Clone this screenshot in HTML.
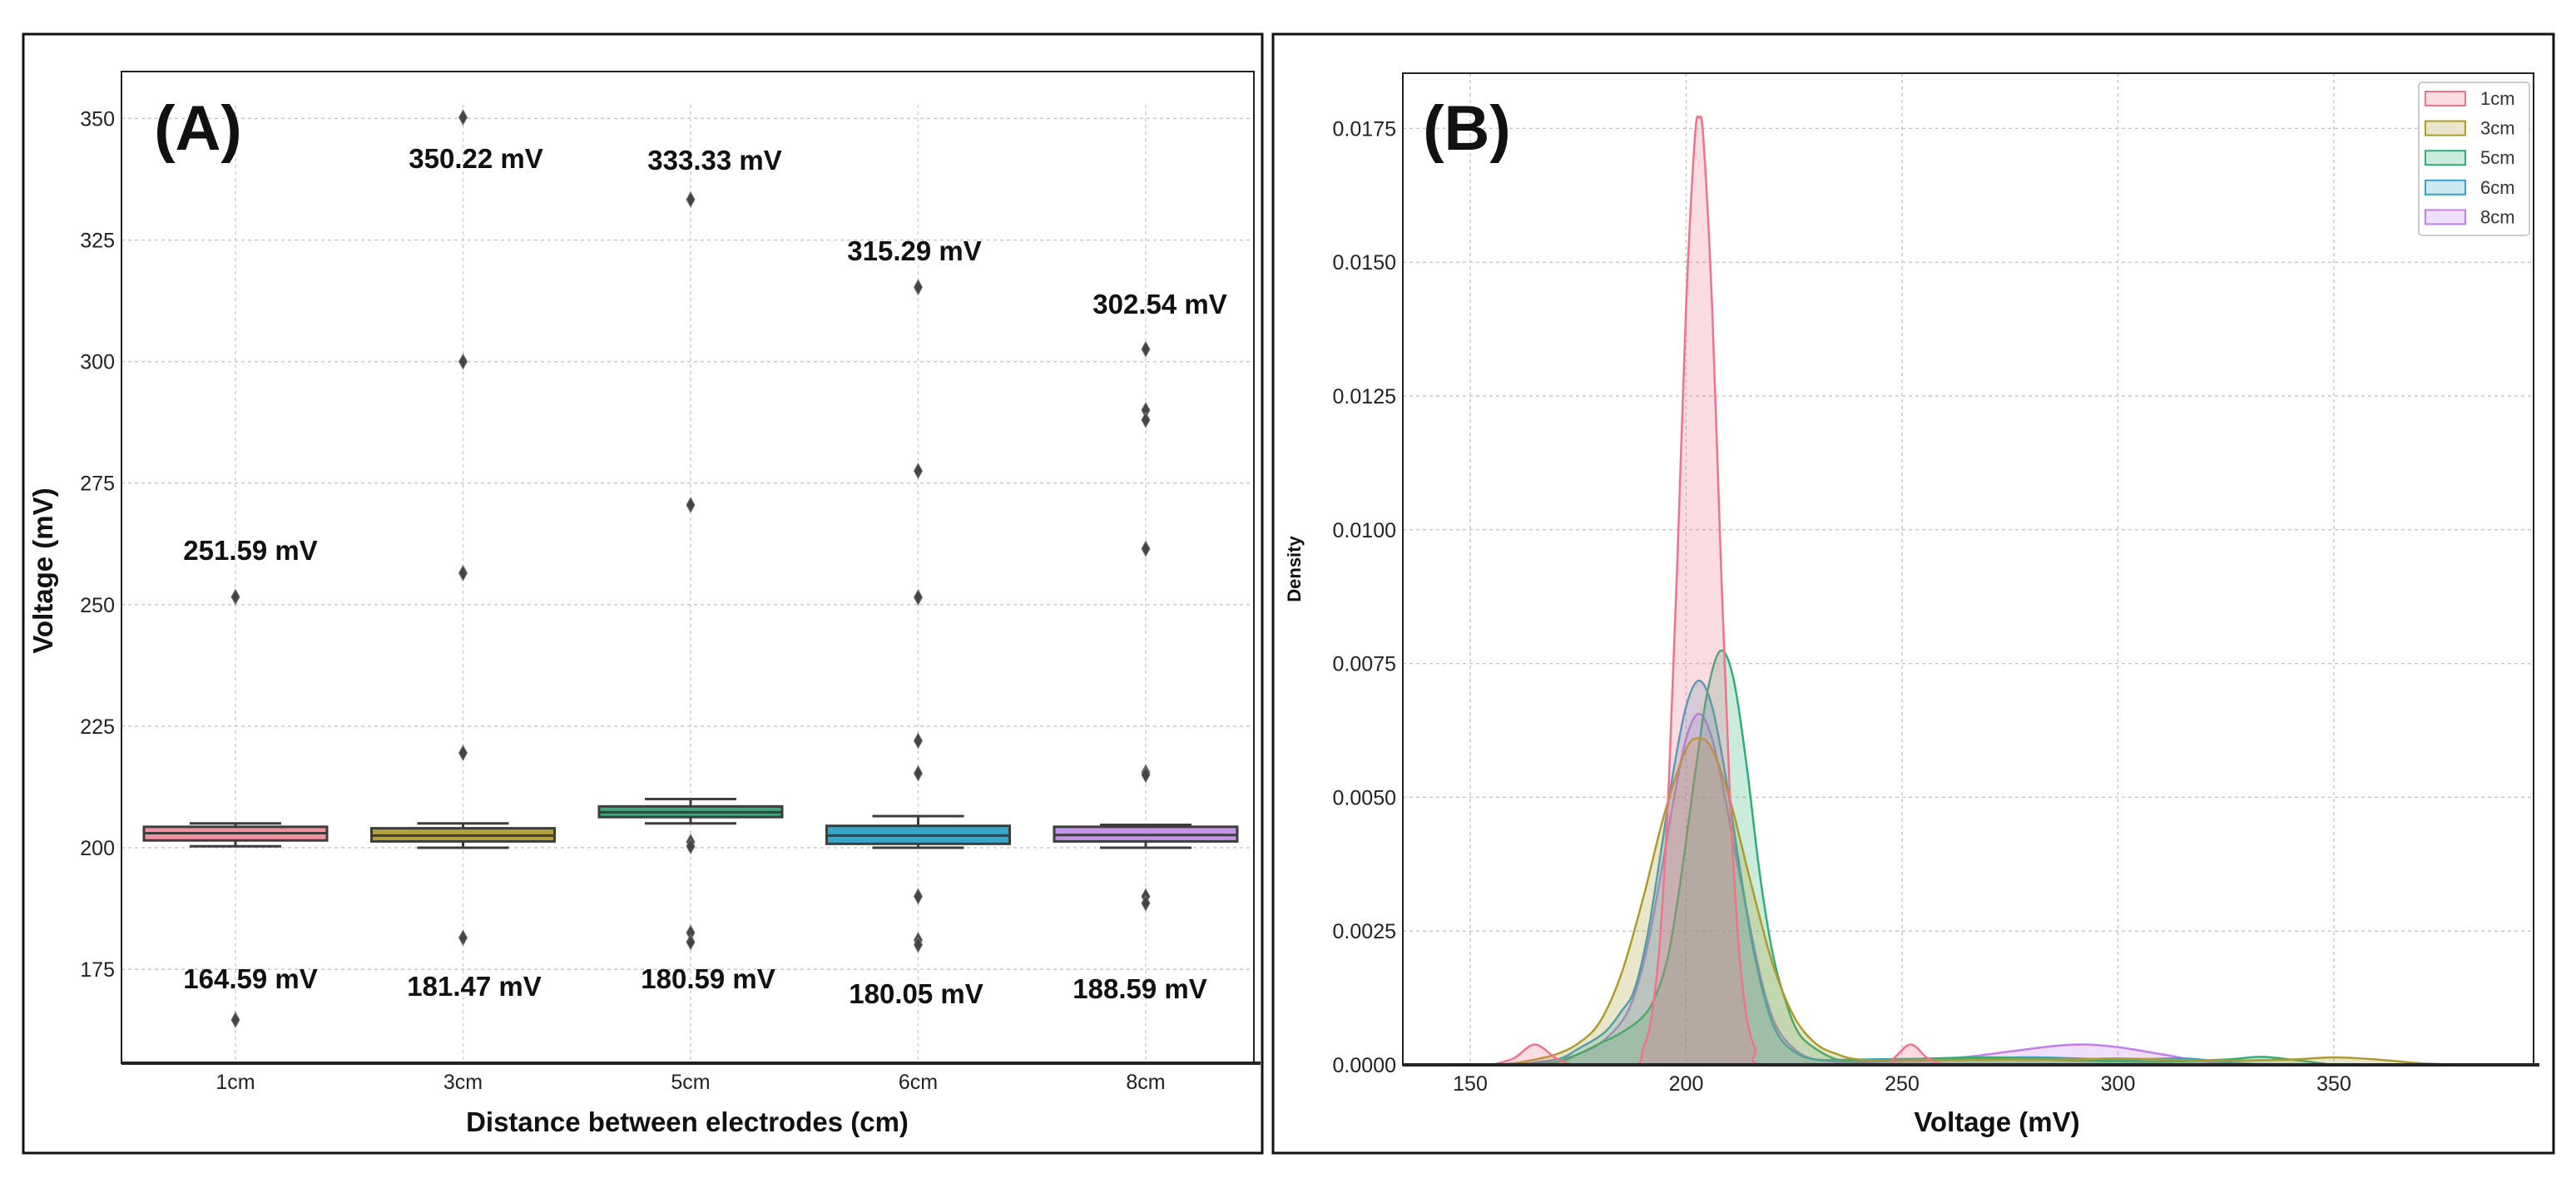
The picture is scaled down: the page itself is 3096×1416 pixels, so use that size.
<!DOCTYPE html>
<html><head><meta charset="utf-8"><style>
html,body{margin:0;padding:0;background:#fff;}
svg{display:block;font-family:"Liberation Sans",Arial,sans-serif;}
</style></head><body>
<svg id="fig" width="3096" height="1416" viewBox="0 0 3096 1416" xmlns="http://www.w3.org/2000/svg">
<rect x="0" y="0" width="3096" height="1416" fill="#fff"/>
<rect x="28" y="41" width="1489" height="1345" fill="none" stroke="#111" stroke-width="3"/>
<rect x="1530" y="41" width="1539" height="1345" fill="none" stroke="#111" stroke-width="3"/>
<g id="pa"></g>
<g id="pb"></g>
</svg>
<script>
// ---------- Panel A data ----------
const catsA = ["1cm","3cm","5cm","6cm","8cm"];
const q1A = [201.5, 201.3, 206.3, 200.8, 201.3];
const medA = [203.0, 202.5, 207.3, 202.5, 202.6];
const q3A = [204.3, 204.0, 208.5, 204.5, 204.3];
const wloA = [200.3, 200.0, 205.0, 200.0, 200.0];
const whiA = [205.0, 205.0, 210.0, 206.5, 204.7];
const outA = [
  [251.59, 164.59],
  [350.22, 300.0, 256.5, 219.5, 181.47],
  [333.33, 270.5, 201.2, 200.3, 182.5, 180.59],
  [315.29, 277.5, 251.5, 222.0, 215.3, 190.0, 181.0, 180.05],
  [302.54, 290.0, 288.0, 261.5, 215.5, 215.0, 190.0, 188.59]
];
const annHiA = ["251.59 mV","350.22 mV","333.33 mV","315.29 mV","302.54 mV"];
const annLoA = ["164.59 mV","181.47 mV","180.59 mV","180.05 mV","188.59 mV"];
const yTicksA = [175, 200, 225, 250, 275, 300, 325, 350];
const colorsA = ["#f3929f","#b3a23c","#3cab7b","#3aa6c9","#c493ec"];

// ---------- Panel B data ----------
const seriesB = ["1cm","3cm","5cm","6cm","8cm"];
const colorsB = ["#f0728b","#ad9b2e","#2fae76","#35a3c7","#c07ef0"];
const kdeX1 = [155,160,165,170,175,188,190,192,194,196,198,200,202,203,204,206,208,210,212,214,216,218,245,248,252,256,260];
const kdeY1 = [0,0.00012,0.00038,0.00012,0,0,0.0003,0.0009,0.0024,0.0053,0.0095,0.0142,0.0173,0.0177,0.0173,0.0142,0.0095,0.0053,0.0024,0.0009,0.0003,0,0,0.00012,0.00038,0.00012,0];
const kdeX3 = [155,160,165,170,175,180,185,190,195,200,203,206,210,215,220,225,230,235,240,250,270,290,300,320,340,350,360,370,380];
const kdeY3 = [0,0.00003,0.0001,0.0002,0.0004,0.0008,0.0017,0.0031,0.0047,0.0059,0.0061,0.0059,0.0050,0.0034,0.0019,0.0009,0.0004,0.0002,0.0001,0.00008,0.0001,0.0001,0.00012,0.00008,0.0001,0.00014,0.0001,0.00003,0];
const kdeX5 = [160,170,175,180,185,190,193,196,199,202,205,208,211,214,217,220,223,226,230,235,240,250,270,290,310,325,333,340,350];
const kdeY5 = [0,0.00005,0.0002,0.0004,0.0006,0.0009,0.0013,0.0021,0.0036,0.0054,0.0070,0.00774,0.0072,0.0056,0.0036,0.0021,0.0012,0.0006,0.0003,0.0001,0.00008,0.0001,0.00014,0.00008,0.00006,0.0001,0.00015,0.0001,0];
const kdeX6 = [160,170,175,181,185,188,191,194,197,200,203,206,209,212,215,218,221,225,230,240,260,280,300,315,325,335];
const kdeY6 = [0,0.0001,0.0003,0.0006,0.0010,0.0014,0.0024,0.0039,0.00546,0.0067,0.00718,0.0067,0.00546,0.0039,0.0024,0.0013,0.0006,0.00025,0.0001,0.0001,0.00012,0.00014,0.0001,0.00012,0.00005,0];
const kdeX8 = [160,170,175,180,185,188,191,194,197,200,203,206,209,212,215,218,221,225,230,240,255,265,275,285,292,300,310,320,330];
const kdeY8 = [0,0.0001,0.0002,0.0004,0.0008,0.0013,0.0022,0.0035,0.0049,0.0061,0.00656,0.0061,0.0050,0.0037,0.0025,0.0014,0.0007,0.0003,0.0001,0.00005,0.0001,0.00015,0.00025,0.00035,0.00038,0.00033,0.0002,0.00006,0];
const xTicksB = [150, 200, 250, 300, 350];
const yTicksB = [0, 0.0025, 0.005, 0.0075, 0.01, 0.0125, 0.015, 0.0175];
const yTickLabB = ["0.0000","0.0025","0.0050","0.0075","0.0100","0.0125","0.0150","0.0175"];

const NS = "http://www.w3.org/2000/svg";
function mk(parent, tag, attrs, text){
  const e = document.createElementNS(NS, tag);
  for (const k in attrs) e.setAttribute(k, attrs[k]);
  if (text !== undefined) e.textContent = text;
  parent.appendChild(e);
  return e;
}

// ---------- Panel A ----------
const pa = document.getElementById("pa");
const AL=146, AR=1507, AT=86, AB=1278;
const yA = v => 1019 - (v-200)*5.844;
const xA = i => 283 + i*273.5;
const BW = 220;

yTicksA.forEach(t=>{
  const g = mk(pa,"line",{x1:AL,x2:AR,y1:yA(t),y2:yA(t),stroke:"#c8c8c8","stroke-width":1.5,"stroke-dasharray":"4 4"});
  
  
  const tl = mk(pa,"text",{x:AL-8,y:yA(t)+9,"text-anchor":"end","font-size":25,fill:"#222"},String(t));
  
  
});
catsA.forEach((c,i)=>{
  const g = mk(pa,"line",{x1:xA(i),x2:xA(i),y1:AT+40,y2:AB,stroke:"#d0d0d0","stroke-width":1.5,"stroke-dasharray":"4 4"});
  
  
  const tl = mk(pa,"text",{x:xA(i),y:1309,"text-anchor":"middle","font-size":25,fill:"#222"},c);
  
  
});
mk(pa,"rect",{x:AL,y:AT,width:AR-AL,height:AB-AT,fill:"none",stroke:"#222","stroke-width":2});
mk(pa,"line",{x1:AL,x2:1515,y1:AB,y2:AB,stroke:"#222","stroke-width":4});

catsA.forEach((c,i)=>{
  const x = xA(i);
  const g = mk(pa,"g",{});
  
  
  mk(g,"line",{x1:x,x2:x,y1:yA(whiA[i]),y2:yA(q3A[i]),stroke:"#3d3d3d","stroke-width":3});
  mk(g,"line",{x1:x,x2:x,y1:yA(q1A[i]),y2:yA(wloA[i]),stroke:"#3d3d3d","stroke-width":3});
  mk(g,"line",{x1:x-BW/4,x2:x+BW/4,y1:yA(whiA[i]),y2:yA(whiA[i]),stroke:"#3d3d3d","stroke-width":3});
  mk(g,"line",{x1:x-BW/4,x2:x+BW/4,y1:yA(wloA[i]),y2:yA(wloA[i]),stroke:"#3d3d3d","stroke-width":3});
  mk(g,"rect",{x:x-BW/2,y:yA(q3A[i]),width:BW,height:yA(q1A[i])-yA(q3A[i]),fill:colorsA[i],stroke:"#3d3d3d","stroke-width":3});
  mk(g,"line",{x1:x-BW/2,x2:x+BW/2,y1:yA(medA[i]),y2:yA(medA[i]),stroke:"#3d3d3d","stroke-width":3});
  outA[i].forEach(v=>{
    const y = yA(v);
    const d = mk(pa,"path",{d:`M${x} ${y-9} L${x+5} ${y} L${x} ${y+9} L${x-5} ${y} Z`,fill:"#444",stroke:"#777","stroke-width":1});
    
    
  });
});
const annHiPos = [[301,673],[572,202],[859,204],[1099,313],[1394,377]];
const annLoPos = [[301,1188],[570,1197],[851,1188],[1101,1206],[1370,1200]];
catsA.forEach((c,i)=>{
  const t1 = mk(pa,"text",{x:annHiPos[i][0],y:annHiPos[i][1],"text-anchor":"middle","font-size":33,"font-weight":"bold",fill:"#111"},annHiA[i]);
  
  
  const t2 = mk(pa,"text",{x:annLoPos[i][0],y:annLoPos[i][1],"text-anchor":"middle","font-size":33,"font-weight":"bold",fill:"#111"},annLoA[i]);
  
  
});
let t;
t = mk(pa,"text",{x:238,y:180,"text-anchor":"middle","font-size":76,"font-weight":"bold",fill:"#111"},"(A)");


t = mk(pa,"text",{x:826,y:1360,"text-anchor":"middle","font-size":33,"font-weight":"bold",fill:"#111"},"Distance between electrodes (cm)");


t = mk(pa,"text",{x:0,y:0,transform:"translate(63,686) rotate(-90)","text-anchor":"middle","font-size":33,"font-weight":"bold",fill:"#111"},"Voltage (mV)");



// ---------- Panel B ----------
const pb = document.getElementById("pb");
const BL=1686, BR=3045, BT=88, BB=1280;
const xB = v => 1767 + (v-150)*5.19;
const yB = d => 1280 - d*64320;
yTicksB.forEach((tv,i)=>{
  const g = mk(pb,"line",{x1:BL,x2:BR,y1:yB(tv),y2:yB(tv),stroke:"#c8c8c8","stroke-width":1.5,"stroke-dasharray":"4 4"});
  
  
  const tl = mk(pb,"text",{x:BL-8,y:yB(tv)+9,"text-anchor":"end","font-size":25,fill:"#222"},yTickLabB[i]);
  
  
});
xTicksB.forEach(tv=>{
  const g = mk(pb,"line",{x1:xB(tv),x2:xB(tv),y1:BT,y2:BB,stroke:"#c8c8c8","stroke-width":1.5,"stroke-dasharray":"4 4"});
  
  
  const tl = mk(pb,"text",{x:xB(tv),y:1311,"text-anchor":"middle","font-size":25,fill:"#222"},String(tv));
  
  
});
function smooth(xs, ys){
  const P = xs.map((x,i)=>[xB(x), yB(ys[i])]);
  let d = `M${P[0][0]} ${P[0][1]}`;
  for (let i=0;i<P.length-1;i++){
    const p0=P[Math.max(0,i-1)], p1=P[i], p2=P[i+1], p3=P[Math.min(P.length-1,i+2)];
    const c1x=p1[0]+(p2[0]-p0[0])/6, c1y=Math.min(BB,p1[1]+(p2[1]-p0[1])/6);
    const c2x=p2[0]-(p3[0]-p1[0])/6, c2y=Math.min(BB,p2[1]-(p3[1]-p1[1])/6);
    d += ` C${c1x} ${c1y} ${c2x} ${c2y} ${p2[0]} ${p2[1]}`;
  }
  return d;
}
const kX = [kdeX1,kdeX3,kdeX5,kdeX6,kdeX8];
const kY = [kdeY1,kdeY3,kdeY5,kdeY6,kdeY8];
for (let i = seriesB.length-1; i >= 0; i--){
  const s = seriesB[i];
  const line = smooth(kX[i],kY[i]);
  const xs=kX[i];
  const f = mk(pb,"path",{d:line+` L${xB(xs[xs.length-1])} ${BB} L${xB(xs[0])} ${BB} Z`,fill:colorsB[i],"fill-opacity":0.25,stroke:"none"});
  
  
  const l = mk(pb,"path",{d:line,fill:"none",stroke:colorsB[i],"stroke-width":2.5});
  
  
}
mk(pb,"rect",{x:BL,y:BT,width:BR-BL,height:BB-BT,fill:"none",stroke:"#222","stroke-width":2});
mk(pb,"line",{x1:BL,x2:3052,y1:BB,y2:BB,stroke:"#222","stroke-width":4});
const lg = mk(pb,"g",{});


mk(lg,"rect",{x:2907,y:99,width:133,height:184,rx:4,fill:"#fff","fill-opacity":0.9,stroke:"#ccc","stroke-width":2});
seriesB.forEach((s,i)=>{
  const y = 118 + i*35.6;
  const e = mk(lg,"g",{});
  
  
  mk(e,"rect",{x:2915,y:y-8,width:48,height:17,fill:colorsB[i],"fill-opacity":0.25,stroke:colorsB[i],"stroke-width":2});
  mk(e,"text",{x:2981,y:y+8,"font-size":22,fill:"#333"},s);
});
t = mk(pb,"text",{x:1763,y:180,"text-anchor":"middle","font-size":76,"font-weight":"bold",fill:"#111"},"(B)");


t = mk(pb,"text",{x:2400,y:1360,"text-anchor":"middle","font-size":33,"font-weight":"bold",fill:"#111"},"Voltage (mV)");


t = mk(pb,"text",{x:0,y:0,transform:"translate(1563,684) rotate(-90)","text-anchor":"middle","font-size":22,"font-weight":"bold",fill:"#111"},"Density");


</script>
</body></html>
